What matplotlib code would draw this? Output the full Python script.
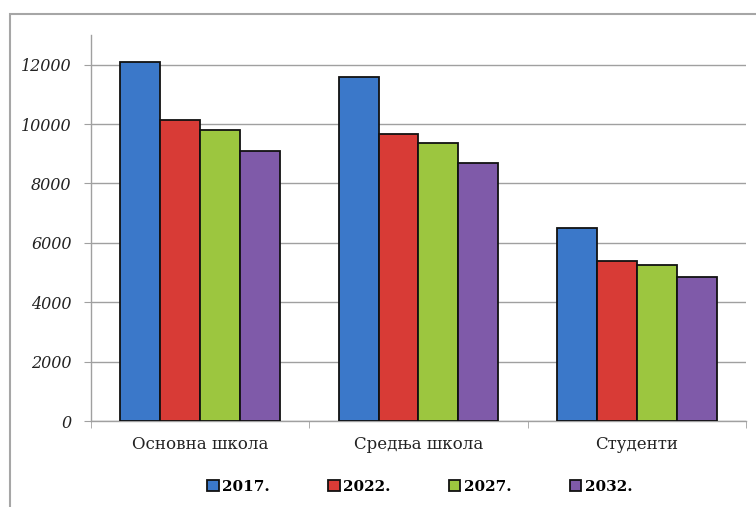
import numpy as np
import matplotlib.pyplot as plt
from matplotlib.patches import Rectangle
from matplotlib.ticker import FixedLocator

# data
categories = ['Основна школа', 'Средња школа', 'Студенти']
years = ['2017.', '2022.', '2027.', '2032.']
v2017 = [12100, 11580, 6500]
v2022 = [10150, 9650, 5380]
v2027 = [9800, 9350, 5240]
v2032 = [9100, 8680, 4850]
series = [v2017, v2022, v2027, v2032]
colors = ['#3b78c9', '#d83b36', '#9cc63f', '#7f5aa9']

serif = ['DejaVu Serif']

fig = plt.figure(figsize=(7.56, 5.07), dpi=100)
ax = fig.add_axes([91/756, 1 - 421/507, (746 - 91)/756, (421 - 35)/507])

# outer chart frame (left and top visible)
fig.patches.append(Rectangle((10/756, -0.05), 1.2, 1 - 14/507 + 0.05,
                             transform=fig.transFigure, fill=False,
                             edgecolor='#a6a6a6', linewidth=1.5))

x = np.arange(len(categories))
w = 0.183
for i, (vals, c) in enumerate(zip(series, colors)):
    ax.bar(x + (i - 1.5) * w, vals, width=w, color=c, edgecolor='#111111',
           linewidth=1.3, label=years[i], zorder=3)

ax.set_xlim(-0.5, 2.5)
ax.set_ylim(0, 13000)
ax.set_yticks(range(0, 12001, 2000))
ax.yaxis.grid(True, color='#a0a0a0', linewidth=1.0, zorder=0)
ax.set_axisbelow(True)

ax.set_xticks(x)
ax.set_xticklabels(categories, fontsize=12, family=serif, color='#222222')
ax.xaxis.set_minor_locator(FixedLocator([-0.5, 0.5, 1.5, 2.5]))
ax.tick_params(axis='x', which='major', length=0, pad=11)
ax.tick_params(axis='x', which='minor', length=5, color='#a0a0a0', direction='out')
ax.tick_params(axis='y', length=5, color='#a0a0a0', pad=9)
for lab in ax.get_yticklabels():
    lab.set_family(serif)
    lab.set_style('italic')
    lab.set_fontsize(11.5)
    lab.set_color('#222222')

for s in ['top', 'right']:
    ax.spines[s].set_visible(False)
for s in ['left', 'bottom']:
    ax.spines[s].set_color('#a0a0a0')
    ax.spines[s].set_linewidth(1.0)

leg = fig.legend(loc='center', bbox_to_anchor=(420/756, 1 - 487/507), ncol=4,
                 frameon=False, handlelength=0.75, handleheight=0.75,
                 handletextpad=0.25, columnspacing=3.8,
                 prop={'family': serif, 'weight': 'bold', 'size': 11})

fig.savefig('out.png', dpi=100)
